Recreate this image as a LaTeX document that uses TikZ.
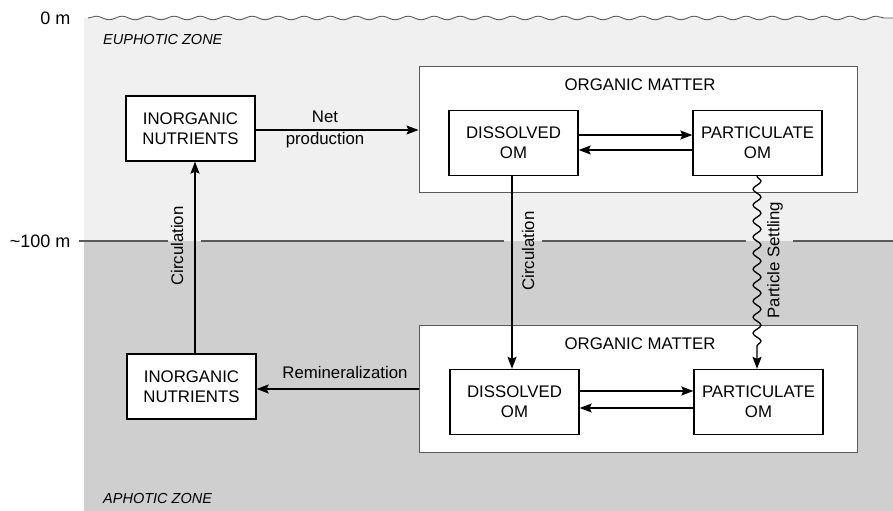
\documentclass[tikz,border=0pt]{standalone}
\usepackage{fontspec}
\setmainfont{Liberation Sans}
\usetikzlibrary{arrows.meta,decorations.pathmorphing}
\definecolor{lightzone}{HTML}{F0F0F0}
\definecolor{darkzone}{HTML}{CFCFCF}
\definecolor{depthline}{HTML}{5A5A5A}
\newcommand\boxfont{\fontsize{16.8bp}{20bp}\selectfont}
\newcommand\zonefont{\fontsize{14.5bp}{16bp}\selectfont\itshape}
\newcommand\depthfont{\fontsize{18bp}{20bp}\selectfont}
\tikzset{
  inner box/.style={draw=black, fill=white, line width=1.3bp, minimum width=129bp, minimum height=65bp, align=center, inner sep=0pt, font=\boxfont},
  outer box/.style={draw=depthline, fill=white, line width=1bp, minimum width=438bp, minimum height=126bp, inner sep=0pt},
  flow/.style={line width=1.3bp, -{Stealth[length=12bp,width=9bp,inset=2bp]}},
  lbl/.style={font=\boxfont, inner sep=1bp, align=center},
}
\begin{document}
\begin{tikzpicture}[x=1bp,y=-1bp]
\useasboundingbox (0,0) rectangle (893,511);
% zones
\fill[lightzone] (84,18) rectangle (893,241);
\fill[darkzone] (84,241) rectangle (893,511);
\draw[depthline, line width=0.9bp, decorate, decoration={snake, amplitude=1.8bp, segment length=26bp}] (88,18) -- (893,18);
\draw[depthline, line width=1.2bp] (79,241) -- (168,241) (201,241) -- (504,241) (542,241) -- (746,241) (793,241) -- (893,241);
\node[font=\depthfont, anchor=east] (d0) at (74,18) {0 m};
\node[font=\depthfont, anchor=east] (d100) at (74,241) {\char"007E{}100 m};
\node[font=\zonefont, anchor=west, inner sep=0pt] (euph) at (103,40) {EUPHOTIC ZONE};
\node[font=\zonefont, anchor=west, inner sep=0pt] (aph) at (103,499) {APHOTIC ZONE};
% outer boxes
\node[outer box] (omT) at (638,130) {};
\node[outer box] (omB) at (638,389) {};
\node[lbl] (omTl) at (640,85) {ORGANIC MATTER};
\node[lbl] (omBl) at (640,344) {ORGANIC MATTER};
% inner boxes
\node[inner box] (inT) at (190.5,128.5) {INORGANIC\\NUTRIENTS};
\node[inner box] (inB) at (191.5,386.5) {INORGANIC\\NUTRIENTS};
\node[inner box] (dT) at (513.5,143) {DISSOLVED\\OM};
\node[inner box] (pT) at (757.5,143) {PARTICULATE\\OM};
\node[inner box] (dB) at (514.5,402) {DISSOLVED\\OM};
\node[inner box] (pB) at (758.5,402) {PARTICULATE\\OM};
% connectors
\draw[flow] (omT.west -| inT.east) -- (omT.west);
\node[lbl, font=\fontsize{16.8bp}{22bp}\selectfont] (np) at (325,129) {Net\\production};
\draw[flow] ([yshift=8bp]dT.east) -- ([yshift=8bp]dT.east -| pT.west);
\draw[flow] ([yshift=-7bp]pT.west) -- ([yshift=-7bp]pT.west -| dT.east);
\draw[flow] ([yshift=11bp]dB.east) -- ([yshift=11bp]dB.east -| pB.west);
\draw[flow] ([yshift=-6bp]pB.west) -- ([yshift=-6bp]pB.west -| dB.east);
\draw[flow] (omB.west) -- (omB.west -| inB.east);
\node[lbl] (rem) at (345,372) {Remineralization};
\draw[flow] ([xshift=3.5bp]inB.north) -- ([xshift=3.5bp]inB.north |- inT.south);
\node[lbl, rotate=90] (circL) at (177,246) {Circulation};
\draw[flow] (dT.south -| 512,0) -- (dB.north -| 512,0);
\node[lbl, rotate=90] (circM) at (528,251) {Circulation};
\draw[flow, decorate, decoration={snake, amplitude=4bp, segment length=16bp, post length=16bp}] (pT.south -| 757,0) -- (pB.north -| 757,0);
\node[lbl, rotate=90] (ps) at (775,260) {Particle Settling};
\end{tikzpicture}
\end{document}
